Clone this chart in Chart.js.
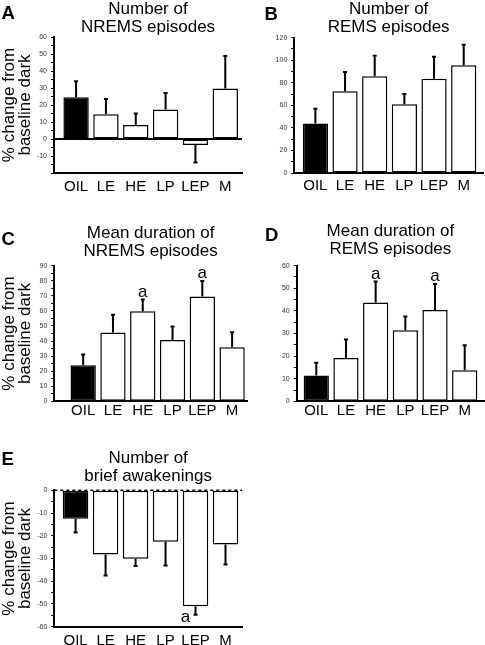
<!DOCTYPE html>
<html>
<head>
<meta charset="utf-8">
<script src="https://cdn.jsdelivr.net/npm/chart.js@4.4.1/dist/chart.umd.min.js"></script>
<style>
    body { margin: 0; background: #fff; }
    #page { position: relative; width: 485px; height: 645px; overflow: hidden; background: #fff; }
    #page canvas { position: absolute; }
    .letter { position: absolute; font: bold 18.5px "Liberation Sans", Arial, sans-serif; line-height: 18px; color: #000; }
</style>
</head>
<body>
<div id="page"></div>
<script>
const categories = ["OIL", "LE", "HE", "LP", "LEP", "M"];
const barColors = ["#000", "#fff", "#fff", "#fff", "#fff", "#fff"];

// A - number of NREMS episodes
const nremsCount = [24.5, 14.5, 8.2, 17.3, -3.5, 29.7];
const nremsCountErr = [9.5, 9, 6.8, 9.7, 10.3, 19.1];

// B - number of REMS episodes
const remsCount = [44, 72.5, 85.8, 61, 83.6, 95.5];
const remsCountErr = [13, 17, 18.2, 9, 19.4, 18.3];

// C - mean duration of NREMS episodes
const nremsDuration = [23.9, 45.6, 59.7, 40.7, 69.5, 35.8];
const nremsDurationErr = [7.1, 11.9, 7.8, 8.9, 10.4, 10];
const nremsDurationSig = ["", "", "a", "", "a", ""];

// D - mean duration of REMS episodes
const remsDuration = [11.4, 19.2, 43.7, 31.4, 40.4, 13.7];
const remsDurationErr = [5.7, 8.1, 9.3, 6.1, 11.5, 11.1];
const remsDurationSig = ["", "", "a", "", "a", ""];

// E - number of brief awakenings
const awakenings = [-12.5, -28.2, -30.1, -22.6, -51, -23.8];
const awakeningsErr = [6.1, 9.3, 3.2, 10.5, 3.7, 8.8];
const awakeningsSig = ["", "", "", "", "a", ""];

const yAxisTitle = ["% change from", "baseline dark"];
const fontFamily = '"Liberation Sans", Arial, sans-serif';
const titleSize = 17;
const titleLineHeight = 1.06;

const panels = [
    { letter: "A", letterPos: [1.5, 4], title: ["Number of", "NREMS episodes"],
      values: nremsCount, errors: nremsCountErr, marks: null,
      yMin: -20, yMax: 60, step: 10, firstLabel: -10, zero: "solid", yTitle: true,
      xMin: -0.74, xMax: 5.56, labelPad: 5,
      box: { left: 0, top: 0, width: 245, height: 200 },
      plot: { left: 54, right: 242, top: 37, bottom: 173 } },
    { letter: "B", letterPos: [264.5, 4.5], title: ["Number of", "REMS episodes"],
      values: remsCount, errors: remsCountErr, marks: null,
      yMin: 0, yMax: 120, step: 20, firstLabel: 0, zero: null, yTitle: false,
      xMin: -0.71, xMax: 5.65, labelPad: 4,
      box: { left: 245, top: 0, width: 240, height: 200 },
      plot: { left: 294.3, right: 483, top: 37.7, bottom: 173 } },
    { letter: "C", letterPos: [1.5, 229.5], title: ["Mean duration of", "NREMS episodes"],
      values: nremsDuration, errors: nremsDurationErr, marks: nremsDurationSig,
      yMin: 0, yMax: 90, step: 10, firstLabel: 0, zero: null, yTitle: true,
      xMin: -0.97, xMax: 5.5, labelPad: 1,
      box: { left: 0, top: 224, width: 250, height: 200 },
      plot: { left: 54.3, right: 247, top: 265.7, bottom: 401.3 } },
    { letter: "D", letterPos: [265, 225.8], title: ["Mean duration of", "REMS episodes"],
      values: remsDuration, errors: remsDurationErr, marks: remsDurationSig,
      yMin: 0, yMax: 60, step: 10, firstLabel: 0, zero: null, yTitle: false,
      xMin: -0.66, xMax: 5.65, labelPad: 1,
      box: { left: 245, top: 222, width: 240, height: 202 },
      plot: { left: 296.7, right: 484, top: 265.7, bottom: 401.3 } },
    { letter: "E", letterPos: [1.5, 449.5], title: ["Number of", "brief awakenings"],
      values: awakenings, errors: awakeningsErr, marks: awakeningsSig,
      yMin: -60, yMax: 0, step: 10, firstLabel: -60, zero: "dashed", yTitle: true,
      xMin: -0.71, xMax: 5.55, labelPad: 5,
      box: { left: 0, top: 449, width: 245, height: 196 },
      plot: { left: 54.3, right: 242, top: 490.3, bottom: 626.7 } }
];

// error bars, zero line and the "a" significance marks
const errorBarPlugin = {
    id: "errorBars",
    beforeDatasetsDraw(chart, args, opts) {
        if (!opts.zero) return;
        const { ctx, chartArea } = chart;
        const y0 = chart.scales.y.getPixelForValue(0);
        ctx.save();
        ctx.strokeStyle = "#000";
        if (opts.zero === "dashed") {
            ctx.lineWidth = 1.5;
            ctx.setLineDash([3, 3]);
        } else {
            ctx.lineWidth = 2;
        }
        ctx.beginPath();
        ctx.moveTo(chartArea.left, y0);
        ctx.lineTo(chartArea.right, y0);
        ctx.stroke();
        ctx.restore();
    },
    afterDatasetsDraw(chart, args, opts) {
        const { ctx } = chart;
        const yScale = chart.scales.y;
        const meta = chart.getDatasetMeta(0);
        const data = chart.data.datasets[0].data;
        ctx.save();
        ctx.strokeStyle = "#000";
        ctx.fillStyle = "#000";
        ctx.lineWidth = 2;
        meta.data.forEach((bar, i) => {
            const v = data[i].y;
            const err = opts.errors[i];
            const end = v >= 0 ? v + err : v - err;
            const yStart = yScale.getPixelForValue(v);
            const yEnd = yScale.getPixelForValue(end);
            ctx.beginPath();
            ctx.moveTo(bar.x, yStart);
            ctx.lineTo(bar.x, yEnd);
            ctx.moveTo(bar.x - 2, yEnd);
            ctx.lineTo(bar.x + 2, yEnd);
            ctx.stroke();

            if (opts.marks && opts.marks[i]) {
                ctx.font = "17px " + fontFamily;
                ctx.textAlign = "center";
                ctx.textBaseline = "alphabetic";
                if (v >= 0) {
                    ctx.fillText(opts.marks[i], bar.x, yEnd - 3);
                } else {
                    ctx.fillText(opts.marks[i], bar.x - 10, yEnd + 7);
                }
            }
        });
        ctx.restore();
    }
};

const page = document.getElementById("page");

panels.forEach(p => {
    const canvas = document.createElement("canvas");
    canvas.width = p.box.width;
    canvas.height = p.box.height;
    canvas.style.left = p.box.left + "px";
    canvas.style.top = p.box.top + "px";
    page.appendChild(canvas);

    const letter = document.createElement("div");
    letter.className = "letter";
    letter.textContent = p.letter;
    letter.style.left = p.letterPos[0] + "px";
    letter.style.top = p.letterPos[1] + "px";
    page.appendChild(letter);

    const yWidth = p.plot.left - p.box.left;
    const padRight = p.box.left + p.box.width - p.plot.right;
    const xHeight = p.box.top + p.box.height - p.plot.bottom;
    const titleHeight = 2 * titleSize * titleLineHeight;
    const titlePad = p.plot.top - p.box.top - titleHeight;

    new Chart(canvas, {
        type: "bar",
        data: {
            datasets: [{
                data: p.values.map((v, i) => ({ x: i, y: v })),
                backgroundColor: barColors,
                borderColor: "#000",
                borderWidth: 1.5,
                borderSkipped: false,
                barPercentage: 0.85,
                categoryPercentage: 1,
                clip: false
            }]
        },
        options: {
            responsive: false,
            animation: false,
            devicePixelRatio: 1,
            layout: { padding: { top: 0, right: padRight, bottom: 0, left: 0 } },
            plugins: {
                legend: { display: false },
                tooltip: { enabled: false },
                title: {
                    display: true,
                    text: p.title,
                    fullSize: false,
                    color: "#000",
                    font: { family: fontFamily, size: titleSize, weight: "normal", lineHeight: titleLineHeight },
                    padding: { top: 0, bottom: titlePad }
                },
                errorBars: { errors: p.errors, marks: p.marks, zero: p.zero }
            },
            scales: {
                x: {
                    type: "linear",
                    min: p.xMin,
                    max: p.xMax,
                    offset: false,
                    grid: { display: false, drawTicks: false },
                    border: { color: "#000", width: 2 },
                    ticks: {
                        stepSize: 1,
                        includeBounds: false,
                        autoSkip: false,
                        maxRotation: 0,
                        padding: p.labelPad,
                        color: "#000",
                        font: { family: fontFamily, size: 15 },
                        callback: v => Number.isInteger(v) ? categories[v] : ""
                    },
                    afterFit: s => { s.height = xHeight; }
                },
                y: {
                    min: p.yMin,
                    max: p.yMax,
                    ticks: {
                        stepSize: p.step / 2,
                        autoSkip: false,
                        padding: 4,
                        color: "#333",
                        font: { family: fontFamily, size: 7 },
                        callback: v => (v % p.step === 0 && v >= p.firstLabel) ? v : ""
                    },
                    grid: {
                        drawOnChartArea: false,
                        tickLength: 3,
                        tickColor: "#000",
                        tickWidth: 1
                    },
                    border: { color: "#000", width: 2 },
                    title: {
                        display: p.yTitle,
                        text: yAxisTitle,
                        color: "#000",
                        font: { family: fontFamily, size: 17, lineHeight: 0.95 },
                        padding: { top: 1.4, bottom: 0 }
                    },
                    afterFit: s => { s.width = yWidth; }
                }
            }
        },
        plugins: [errorBarPlugin]
    });
});
</script>
</body>
</html>
